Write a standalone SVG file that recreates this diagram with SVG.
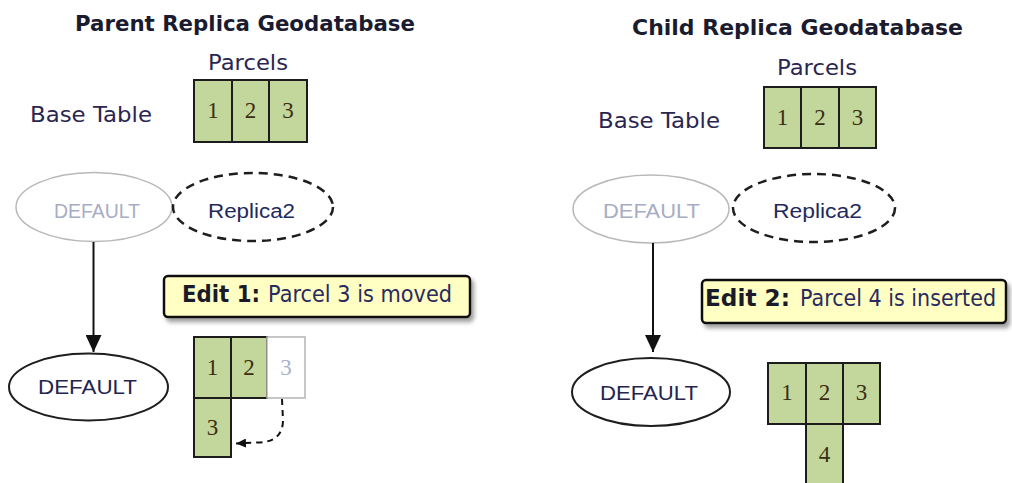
<svg xmlns="http://www.w3.org/2000/svg" width="1012" height="483" viewBox="0 0 1012 483">
<defs>
<style>
.title{font-family:"DejaVu Sans","Liberation Sans",sans-serif;font-weight:bold;font-size:21px;fill:#1b1b30}
.lbl{font-family:"DejaVu Sans","Liberation Sans",sans-serif;font-size:21px;fill:#2a2650}
.cell{fill:#c3d69b;stroke:#1c1c1c;stroke-width:2}
.ghostcell{fill:#ffffff;stroke:#b4b4b4;stroke-width:1.5}
.num{font-family:"Liberation Serif","Times New Roman",serif;font-size:23px;fill:#3a2e12;text-anchor:middle}
.ghostnum{font-family:"Liberation Serif","Times New Roman",serif;font-size:23px;fill:#a9b2cc;text-anchor:middle}
.ver{font-family:"Liberation Sans",Arial,sans-serif;font-size:20px}
.ghostell{fill:#ffffff;stroke:#b8b8b8;stroke-width:1.5}
.dashell{fill:#ffffff;stroke:#1e1e1e;stroke-width:2.5;stroke-dasharray:9 6}
.solidell{fill:#ffffff;stroke:#1e1e1e;stroke-width:2}
.note{fill:#ffffc4;stroke:#111111;stroke-width:2.5}
.notetxt{font-family:"DejaVu Sans","Liberation Sans",sans-serif;font-size:23px;fill:#2a2a5e}
.notebold{font-weight:bold;fill:#1a1a28}
.conn{stroke:#111111;stroke-width:2;fill:none}
</style>
<marker id="arr" viewBox="0 0 17 16" refX="17" refY="8" markerWidth="17" markerHeight="16" markerUnits="userSpaceOnUse" orient="auto">
<path d="M0,0 L17,8 L0,16 z" fill="#111111"/>
</marker>
<marker id="arrs" viewBox="0 0 10 9" refX="10" refY="4.5" markerWidth="10" markerHeight="9" markerUnits="userSpaceOnUse" orient="auto">
<path d="M0,0 L10,4.5 L0,9 z" fill="#111111"/>
</marker>
<filter id="shadow" x="-10%" y="-30%" width="125%" height="170%">
<feDropShadow dx="3" dy="4" stdDeviation="2" flood-color="#777777" flood-opacity="0.7"/>
</filter>
</defs>

<!-- ===== Parent side ===== -->
<g id="parent-title"><text class="title" x="75" y="31" textLength="340" lengthAdjust="spacingAndGlyphs">Parent Replica Geodatabase</text></g>
<g id="parent-parcels-label"><text class="lbl" x="208" y="70" textLength="80" lengthAdjust="spacingAndGlyphs">Parcels</text></g>
<g id="parent-base-label"><text class="lbl" x="30" y="122" textLength="122" lengthAdjust="spacingAndGlyphs">Base Table</text></g>
<g id="parent-base-table">
<rect class="cell" x="194" y="80" width="38" height="62"/>
<rect class="cell" x="232" y="80" width="37" height="62"/>
<rect class="cell" x="269" y="80" width="38" height="62"/>
<text class="num" x="213" y="118">1</text>
<text class="num" x="250.5" y="118">2</text>
<text class="num" x="288" y="118">3</text>
</g>
<g id="parent-default-old">
<ellipse class="ghostell" cx="94" cy="207" rx="78" ry="34.5"/>
<text class="ver" x="54" y="218" textLength="86" lengthAdjust="spacingAndGlyphs" fill="#a7adc2">DEFAULT</text>
</g>
<g id="parent-replica2">
<ellipse class="dashell" cx="253" cy="207" rx="80" ry="34"/>
<text class="ver" x="208" y="218" textLength="87" lengthAdjust="spacingAndGlyphs" fill="#1f2a5c">Replica2</text>
</g>
<g id="edit1">
<rect class="note" x="164" y="276" width="306" height="41" rx="4" filter="url(#shadow)"/>
<text class="notetxt" y="302"><tspan class="notebold" x="182" textLength="78" lengthAdjust="spacingAndGlyphs">Edit 1:</tspan><tspan x="268" textLength="184" lengthAdjust="spacingAndGlyphs">Parcel 3 is moved</tspan></text>
</g>
<g id="parent-default-new">
<ellipse class="solidell" cx="88.5" cy="387" rx="79.5" ry="33.5"/>
<text class="ver" x="38" y="394" textLength="99" lengthAdjust="spacingAndGlyphs" fill="#24244e">DEFAULT</text>
</g>
<g id="parent-edited-table">
<rect class="cell" x="194" y="337" width="37" height="61"/>
<rect class="cell" x="231" y="337" width="36" height="61"/>
<rect class="ghostcell" x="267" y="337" width="38" height="61"/>
<rect class="cell" x="194" y="398" width="37" height="59"/>
<text class="num" x="212.5" y="375">1</text>
<text class="num" x="249" y="375">2</text>
<text class="ghostnum" x="286" y="375">3</text>
<text class="num" x="212.5" y="435">3</text>
</g>

<!-- ===== Child side ===== -->
<g id="child-title"><text class="title" x="632" y="35" textLength="331" lengthAdjust="spacingAndGlyphs">Child Replica Geodatabase</text></g>
<g id="child-parcels-label"><text class="lbl" x="777" y="75" textLength="80" lengthAdjust="spacingAndGlyphs">Parcels</text></g>
<g id="child-base-label"><text class="lbl" x="598" y="128" textLength="122" lengthAdjust="spacingAndGlyphs">Base Table</text></g>
<g id="child-base-table">
<rect class="cell" x="764" y="87" width="37" height="61"/>
<rect class="cell" x="801" y="87" width="38" height="61"/>
<rect class="cell" x="839" y="87" width="37" height="61"/>
<text class="num" x="782.5" y="125">1</text>
<text class="num" x="820" y="125">2</text>
<text class="num" x="857.5" y="125">3</text>
</g>
<g id="child-default-old">
<ellipse class="ghostell" cx="651" cy="209" rx="78" ry="34"/>
<text class="ver" x="603" y="218" textLength="97" lengthAdjust="spacingAndGlyphs" fill="#a7adc2">DEFAULT</text>
</g>
<g id="child-replica2">
<ellipse class="dashell" cx="814" cy="208" rx="81" ry="34"/>
<text class="ver" x="773" y="218" textLength="89" lengthAdjust="spacingAndGlyphs" fill="#1f2a5c">Replica2</text>
</g>
<g id="edit2">
<rect class="note" x="702" y="280" width="304" height="43" rx="4" filter="url(#shadow)"/>
<text class="notetxt" y="306"><tspan class="notebold" x="705" textLength="85" lengthAdjust="spacingAndGlyphs">Edit 2:</tspan><tspan x="800" textLength="196" lengthAdjust="spacingAndGlyphs">Parcel 4 is inserted</tspan></text>
</g>
<g id="child-default-new">
<ellipse class="solidell" cx="651" cy="392" rx="79" ry="34"/>
<text class="ver" x="600" y="400" textLength="98" lengthAdjust="spacingAndGlyphs" fill="#24244e">DEFAULT</text>
</g>
<g id="child-edited-table">
<rect class="cell" x="768" y="363" width="38" height="61"/>
<rect class="cell" x="806" y="363" width="37" height="61"/>
<rect class="cell" x="843" y="363" width="37" height="61"/>
<rect class="cell" x="806" y="424" width="37" height="62"/>
<text class="num" x="787" y="400">1</text>
<text class="num" x="824.5" y="400">2</text>
<text class="num" x="861.5" y="400">3</text>
<text class="num" x="824.5" y="462">4</text>
</g>

<!-- ===== Connectors ===== -->
<g id="connectors">
<line class="conn" x1="93.5" y1="242" x2="93.5" y2="352" marker-end="url(#arr)"/>
<line class="conn" x1="653" y1="243" x2="653" y2="352" marker-end="url(#arr)"/>
<path class="conn" d="M282,399 L283,420 Q283,442 258,442.5 L236,443.5" stroke-dasharray="6 5" marker-end="url(#arrs)"/>
</g>
</svg>
